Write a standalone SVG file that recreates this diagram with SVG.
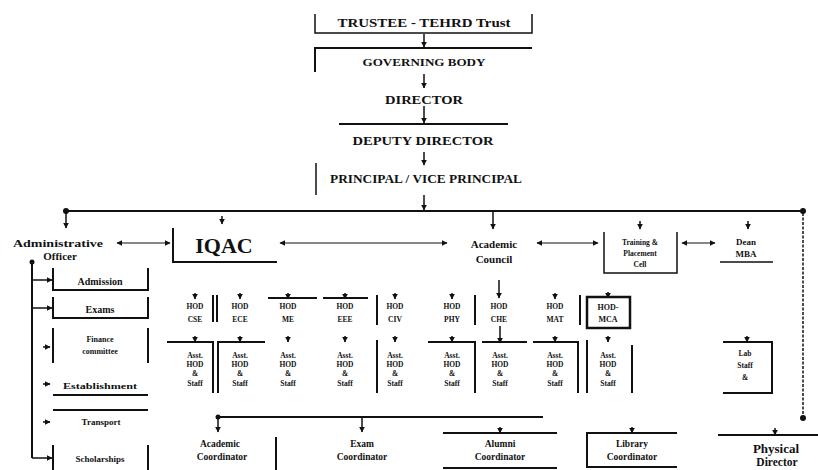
<svg xmlns="http://www.w3.org/2000/svg" width="818" height="470" viewBox="0 0 818 470">
<defs>
<marker id="ah" viewBox="0 0 10 10" refX="9" refY="5" markerWidth="6" markerHeight="6" markerUnits="userSpaceOnUse" orient="auto-start-reverse"><path d="M0,0 L10,5 L0,10 z" fill="#111"/></marker>
</defs>
<style>
.t{font-family:"Liberation Serif",serif;font-weight:bold;fill:#111;text-anchor:middle}
.l{stroke:#111;stroke-width:2;fill:none}
.m{stroke:#111;stroke-width:1.5;fill:none}
.a{stroke:#111;stroke-width:1.5;fill:none;marker-end:url(#ah)}
.d{stroke:#111;stroke-width:1.2;fill:none;marker-start:url(#ah);marker-end:url(#ah)}
.s{font-size:7.5px}
.c{font-size:9.5px}
</style>
<rect width="818" height="470" fill="#fff"/>

<g id="trustee"><path class="m" d="M315,14 V33 H532 V14"/><text class="t" x="424" y="27" font-size="12" textLength="173" lengthAdjust="spacingAndGlyphs">TRUSTEE - TEHRD Trust</text></g>
<g id="governing-body"><path class="l" d="M315,72 V48 H532"/><text class="t" x="424" y="66" font-size="10" textLength="123" lengthAdjust="spacingAndGlyphs">GOVERNING BODY</text></g>
<g id="director"><text class="t" x="424" y="104" font-size="12" textLength="78" lengthAdjust="spacingAndGlyphs">DIRECTOR</text></g>
<g id="deputy-director"><path class="l" d="M339,124 H508"/><text class="t" x="423" y="145" font-size="12" textLength="141" lengthAdjust="spacingAndGlyphs">DEPUTY DIRECTOR</text></g>
<g id="principal"><path class="m" d="M316,163 V195"/><text class="t" x="426" y="183" font-size="12" textLength="192" lengthAdjust="spacingAndGlyphs">PRINCIPAL / VICE PRINCIPAL</text></g>

<g id="admin-officer"><text class="t" x="58" y="247" font-size="11" textLength="90" lengthAdjust="spacingAndGlyphs">Administrative</text><text class="t" x="60" y="260" font-size="11">Officer</text></g>
<g id="iqac"><path class="l" d="M173,228 V262 H277"/><text class="t" x="224" y="253" font-size="22">IQAC</text></g>
<g id="academic-council"><text class="t" x="494" y="248" font-size="11">Academic</text><text class="t" x="494" y="263" font-size="11">Council</text></g>
<g id="training-placement"><path class="m" d="M604,232 V273 H677 V232"/><text class="t s" x="640" y="245">Training &amp;</text><text class="t s" x="640" y="256">Placement</text><text class="t s" x="640" y="267">Cell</text></g>
<g id="dean-mba"><path class="m" d="M720,262 H773"/><text class="t" x="746" y="245" font-size="9">Dean</text><text class="t" x="746" y="257" font-size="9">MBA</text></g>

<g id="admission"><path class="l" d="M53,268 V290 H148 V268"/><text class="t" x="100" y="285" font-size="10">Admission</text></g>
<g id="exams"><path class="l" d="M53,297 V318 H148 V297"/><text class="t" x="100" y="313" font-size="10">Exams</text></g>
<g id="finance"><path class="l" d="M53,328 V363 M148,328 V363"/><text class="t" x="100" y="342" font-size="8">Finance</text><text class="t" x="100" y="354" font-size="8">committee</text></g>
<g id="establishment"><path class="l" d="M53,395 H148"/><text class="t" x="100" y="389" font-size="9" textLength="74" lengthAdjust="spacingAndGlyphs">Establishment</text></g>
<g id="transport"><path class="l" d="M53,410 H148"/><text class="t" x="101" y="425" font-size="9">Transport</text></g>
<g id="scholarships"><path class="l" d="M53,445 V470 M148,445 V470"/><text class="t" x="100" y="462" font-size="9">Scholarships</text></g>

<g id="hod-cse"><text class="t s" x="195" y="309">HOD</text><text class="t s" x="195" y="322">CSE</text></g>
<g id="hod-ece"><path class="l" d="M213,295 V322 M217,295 V322"/><text class="t s" x="240" y="309">HOD</text><text class="t s" x="240" y="322">ECE</text></g>
<g id="hod-me"><path class="l" d="M268,298 H317"/><text class="t s" x="288" y="309">HOD</text><text class="t s" x="288" y="322">ME</text></g>
<g id="hod-eee"><path class="l" d="M323,298 H368"/><text class="t s" x="345" y="309">HOD</text><text class="t s" x="345" y="322">EEE</text></g>
<g id="hod-civ"><path class="l" d="M377,295 V325"/><text class="t s" x="395" y="309">HOD</text><text class="t s" x="395" y="322">CIV</text></g>
<g id="hod-phy"><text class="t s" x="452" y="309">HOD</text><text class="t s" x="452" y="322">PHY</text></g>
<g id="hod-che"><path class="l" d="M475,295 V325"/><text class="t s" x="499" y="309">HOD</text><text class="t s" x="499" y="322">CHE</text></g>
<g id="hod-mat"><text class="t s" x="555" y="309">HOD</text><text class="t s" x="555" y="322">MAT</text></g>
<g id="hod-mca"><path class="l" d="M580,295 V325"/><rect x="587" y="297" width="43" height="31" fill="none" stroke="#111" stroke-width="2.5"/><text class="t" x="608" y="310" font-size="8">HOD-</text><text class="t" x="608" y="322" font-size="8">MCA</text></g>

<g id="staff-cse"><path class="l" d="M167,342 H213 V393"/><text class="t s" x="195" y="358">Asst.</text><text class="t s" x="195" y="367">HOD</text><text class="t s" x="195" y="376">&amp;</text><text class="t s" x="195" y="386">Staff</text></g>
<g id="staff-ece"><path class="l" d="M265,342 H218 V393"/><text class="t s" x="240" y="358">Asst.</text><text class="t s" x="240" y="367">HOD</text><text class="t s" x="240" y="376">&amp;</text><text class="t s" x="240" y="386">Staff</text></g>
<g id="staff-me"><text class="t s" x="288" y="358">Asst.</text><text class="t s" x="288" y="367">HOD</text><text class="t s" x="288" y="376">&amp;</text><text class="t s" x="288" y="386">Staff</text></g>
<g id="staff-eee"><text class="t s" x="345" y="358">Asst.</text><text class="t s" x="345" y="367">HOD</text><text class="t s" x="345" y="376">&amp;</text><text class="t s" x="345" y="386">Staff</text></g>
<g id="staff-civ"><path class="l" d="M377,340 V393"/><text class="t s" x="395" y="358">Asst.</text><text class="t s" x="395" y="367">HOD</text><text class="t s" x="395" y="376">&amp;</text><text class="t s" x="395" y="386">Staff</text></g>
<g id="staff-phy"><path class="l" d="M428,342 H475 V393"/><text class="t s" x="452" y="358">Asst.</text><text class="t s" x="452" y="367">HOD</text><text class="t s" x="452" y="376">&amp;</text><text class="t s" x="452" y="386">Staff</text></g>
<g id="staff-che"><path class="l" d="M482,342 H527"/><text class="t s" x="500" y="358">Asst.</text><text class="t s" x="500" y="367">HOD</text><text class="t s" x="500" y="376">&amp;</text><text class="t s" x="500" y="386">Staff</text></g>
<g id="staff-mat"><path class="l" d="M533,342 H578 V393"/><text class="t s" x="555" y="358">Asst.</text><text class="t s" x="555" y="367">HOD</text><text class="t s" x="555" y="376">&amp;</text><text class="t s" x="555" y="386">Staff</text></g>
<g id="staff-mca"><path class="l" d="M587,340 V393 M632,345 V393"/><text class="t s" x="608" y="358">Asst.</text><text class="t s" x="608" y="367">HOD</text><text class="t s" x="608" y="376">&amp;</text><text class="t s" x="608" y="386">Staff</text></g>
<g id="lab-staff"><path class="l" d="M723,342 H772 V393 H723"/><text class="t s" x="745" y="356">Lab</text><text class="t s" x="745" y="368">Staff</text><text class="t s" x="745" y="380">&amp;</text></g>

<g id="academic-coordinator"><text class="t c" x="220" y="447">Academic</text><text class="t c" x="222" y="460">Coordinator</text></g>
<g id="exam-coordinator"><path class="l" d="M276,437 V470"/><text class="t c" x="362" y="447">Exam</text><text class="t c" x="362" y="460">Coordinator</text></g>
<g id="alumni-coordinator"><path class="l" d="M443,433 H557 M443,468 H557"/><text class="t c" x="500" y="447">Alumni</text><text class="t c" x="500" y="460">Coordinator</text></g>
<g id="library-coordinator"><path class="l" d="M677,433 H587 V467 H677"/><text class="t c" x="632" y="447">Library</text><text class="t c" x="632" y="460">Coordinator</text></g>
<g id="physical-director"><path class="l" d="M718,435 H818"/><text class="t" x="776" y="453" font-size="13">Physical</text><text class="t" x="777" y="466" font-size="11.5">Director</text></g>

<g id="connectors">
<path class="a" d="M424,34 V47"/>
<path class="a" d="M424,74 V88"/>
<path class="a" d="M424,106 V123"/>
<path class="a" d="M424,152 V165"/>
<path class="a" d="M424,195 V210"/>
<path class="l" d="M66,211 H803"/>
<circle cx="66" cy="211" r="3" fill="#111"/>
<circle cx="803" cy="211" r="3" fill="#111"/>
<path class="a" d="M66,211 V228"/>
<path class="m" d="M803,213 V416" stroke-dasharray="3,1.5"/>
<circle cx="803" cy="418" r="3" fill="#111"/>
<path class="a" d="M493,212 V229"/>
<path class="a" d="M222,216 V224"/>
<path class="d" d="M117,243 H170"/>
<path class="d" d="M280,243 H447"/>
<path class="d" d="M537,243 H598"/>
<path class="d" d="M682,243 H715"/>
<path class="a" d="M640,221 V229"/>
<path class="a" d="M748,221 V229"/>
<path class="l" d="M32,262 V458"/>
<circle cx="32" cy="262" r="2.5" fill="#111"/>
<path class="a" d="M32,280 H52"/>
<path class="a" d="M32,308 H52"/>
<path class="a" d="M32,458 H52"/>
<path class="a" d="M43,347 H50"/>
<path class="a" d="M43,384 H50"/>
<path class="a" d="M43,422 H50"/>
<path class="a" d="M195,293 V299"/>
<path class="a" d="M240,293 V299"/>
<path class="a" d="M288,293 V299"/>
<path class="a" d="M345,293 V299"/>
<path class="a" d="M395,293 V299"/>
<path class="a" d="M452,293 V299"/>
<path class="a" d="M499,280 V298"/>
<path class="a" d="M555,293 V299"/>
<path class="a" d="M608,292 V298"/>
<path class="a" d="M195,336 V342"/>
<path class="a" d="M240,336 V342"/>
<path class="a" d="M288,336 V342"/>
<path class="a" d="M345,336 V342"/>
<path class="a" d="M395,336 V342"/>
<path class="a" d="M452,336 V342"/>
<path class="a" d="M500,326 V343"/>
<path class="a" d="M555,336 V342"/>
<path class="a" d="M608,336 V342"/>
<path class="a" d="M747,336 V342"/>
<path class="l" d="M218,417 H543"/>
<circle cx="218" cy="417" r="2.5" fill="#111"/>
<path class="a" d="M218,417 V432"/>
<path class="a" d="M362,417 V432"/>
<path class="a" d="M500,427 V433"/>
<path class="a" d="M632,427 V433"/>
<path class="a" d="M775,428 V435"/>
</g>
</svg>
